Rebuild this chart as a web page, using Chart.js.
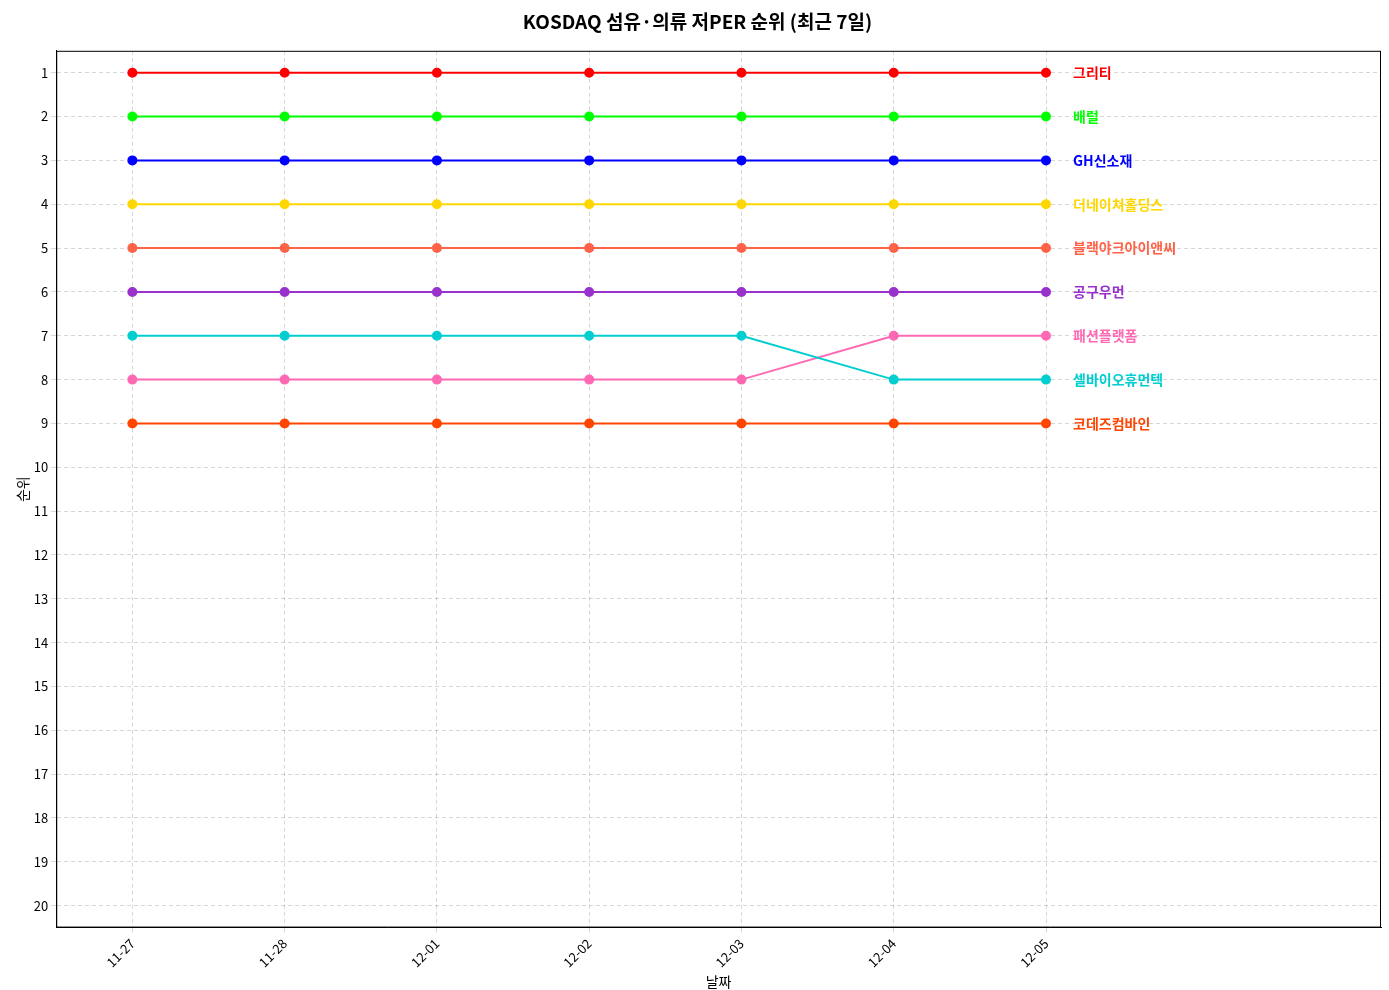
<!DOCTYPE html>
<html>
<head>
<meta charset="utf-8">
<script src="https://cdn.jsdelivr.net/npm/chart.js@4"></script>
<style>
  html, body { margin: 0; padding: 0; background: #fff; }
  #wrap { width: 1389px; height: 990px; position: relative; }
</style>
</head>
<body>
<div id="wrap"><canvas id="rankChart"></canvas></div>
<script>
(function () {
    'use strict';

    var dates = ['11-27', '11-28', '12-01', '12-02', '12-03', '12-04', '12-05'];
    var names = ['그리티', '배럴', 'GH신소재', '더네이쳐홀딩스', '블랙야크아이앤씨', '공구우먼', '셀바이오휴먼텍', '패션플랫폼', '코데즈컴바인'];
    var colors = ['#ff0000', '#00ff00', '#0000ff', '#ffd700', '#ff6347', '#9932cc', '#00ced1', '#ff69b4', '#ff4500'];
    var ranks = [
        [1, 1, 1, 1, 1, 1, 1],
        [2, 2, 2, 2, 2, 2, 2],
        [3, 3, 3, 3, 3, 3, 3],
        [4, 4, 4, 4, 4, 4, 4],
        [5, 5, 5, 5, 5, 5, 5],
        [6, 6, 6, 6, 6, 6, 6],
        [7, 7, 7, 7, 7, 8, 8],
        [8, 8, 8, 8, 8, 7, 7],
        [9, 9, 9, 9, 9, 9, 9]
    ];

    var font = '"Noto Sans CJK KR", "Noto Sans", sans-serif';
    Chart.defaults.font.family = font;
    Chart.defaults.color = '#000';

    var datasets = names.map(function (name, i) {
        return {
            label: name,
            data: ranks[i].map(function (r, j) { return { x: j, y: r }; }),
            borderColor: colors[i],
            backgroundColor: colors[i],
            borderWidth: 2,
            pointRadius: 4,
            pointHoverRadius: 4,
            tension: 0
        };
    });

    var endLabels = {
        id: 'endLabels',
        afterDatasetsDraw: function (chart) {
            var ctx = chart.ctx;
            var a = chart.chartArea;
            ctx.save();
            ctx.strokeStyle = '#000';
            ctx.lineWidth = 1;
            ctx.strokeRect(a.left + 0.5, a.top + 0.5, a.right - a.left - 1, a.bottom - a.top - 1);
            ctx.font = 'bold 14px ' + font;
            ctx.textBaseline = 'middle';
            chart.data.datasets.forEach(function (ds) {
                var last = ds.data[ds.data.length - 1];
                var x = chart.scales.x.getPixelForValue(last.x) + 27;
                var y = chart.scales.y.getPixelForValue(last.y);
                ctx.fillStyle = ds.borderColor;
                ctx.fillText(ds.label, x, y);
            });
            ctx.restore();
        }
    };

    var grid = { color: 'rgba(0,0,0,0.16)', drawTicks: true, tickLength: 5 };
    var border = { color: '#000', dash: [4, 3] };

    new Chart(document.getElementById('rankChart'), {
        type: 'line',
        data: { datasets: datasets },
        plugins: [endLabels],
        options: {
            responsive: true,
            maintainAspectRatio: false,
            animation: false,
            layout: { padding: { left: 14, right: 8, top: 10, bottom: 0 } },
            plugins: {
                legend: { display: false },
                tooltip: { enabled: false },
                title: {
                    display: true,
                    text: 'KOSDAQ 섬유·의류 저PER 순위 (최근 7일)',
                    font: { size: 19, weight: 'bold' },
                    padding: { top: 0, bottom: 18 }
                }
            },
            scales: {
                x: {
                    type: 'linear',
                    min: -0.5,
                    max: 8.2,
                    afterBuildTicks: function (axis) {
                        axis.ticks = dates.map(function (d, i) { return { value: i }; });
                    },
                    ticks: {
                        callback: function (v) { return dates[v]; },
                        maxRotation: 45,
                        minRotation: 45,
                        font: { size: 13 }
                    },
                    grid: grid,
                    border: border,
                    title: { display: true, text: '날짜', font: { size: 14 }, padding: 0 }
                },
                y: {
                    reverse: true,
                    min: 0.5,
                    max: 20.5,
                    afterBuildTicks: function (axis) {
                        var t = [];
                        for (var i = 1; i <= 20; i++) t.push({ value: i });
                        axis.ticks = t;
                    },
                    ticks: { font: { size: 13 } },
                    grid: grid,
                    border: border,
                    title: { display: true, text: '순위', font: { size: 14 }, padding: 0 }
                }
            }
        }
    });
}());
</script>
</body>
</html>
